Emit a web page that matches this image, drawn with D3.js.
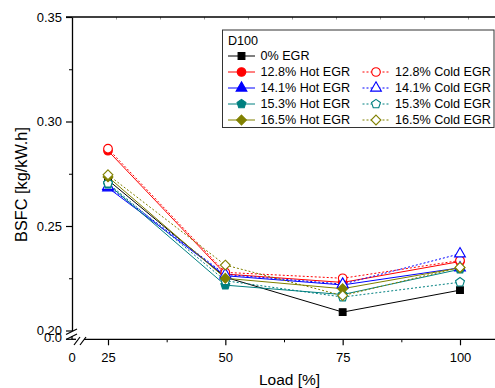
<!DOCTYPE html>
<html><head><meta charset="utf-8">
<script src="https://cdn.jsdelivr.net/npm/d3@7"></script>
<style>
body{margin:0;background:#fff;}
svg{display:block;font-family:"Liberation Sans",Arial,sans-serif;}
</style></head>
<body>
<svg id="c" width="495" height="388"></svg>
<script>
const loads = [25, 50, 75, 100];
const egr0    = [0.2720, 0.2255, 0.2088, 0.2193];
const hot128  = [0.2860, 0.2270, 0.2230, 0.2330];
const cold128 = [0.2870, 0.2278, 0.2250, 0.2335];
const hot141  = [0.2683, 0.2262, 0.2218, 0.2300];
const cold141 = [0.2690, 0.2268, 0.2222, 0.2367];
const hot153  = [0.2700, 0.2217, 0.2172, 0.2293];
const cold153 = [0.2705, 0.2238, 0.2160, 0.2231];
const hot165  = [0.2735, 0.2250, 0.2200, 0.2300];
const cold165 = [0.2745, 0.2313, 0.2167, 0.2302];
const names = ["0% EGR","12.8% Hot EGR","12.8% Cold EGR","14.1% Hot EGR","14.1% Cold EGR",
               "15.3% Hot EGR","15.3% Cold EGR","16.5% Hot EGR","16.5% Cold EGR"];
const yTicks = [0.20, 0.25, 0.30, 0.35];
const yMinor = [0.225, 0.275, 0.325];
const xMinor = [37.5, 62.5, 87.5];
const legendTitle = "D100";

const pentagon = {draw(ctx, size){
  const r = Math.sqrt(size / 2.378);
  for (let i = 0; i < 5; i++){
    const a = -Math.PI/2 + i*2*Math.PI/5;
    const px = r*Math.cos(a), py = r*Math.sin(a);
    if (i === 0) ctx.moveTo(px, py); else ctx.lineTo(px, py);
  }
  ctx.closePath();
}};
const diamond = {draw(ctx, size){
  const r = Math.sqrt(size / 2);
  ctx.moveTo(0, -r); ctx.lineTo(r, 0); ctx.lineTo(0, r); ctx.lineTo(-r, 0); ctx.closePath();
}};

const series = [
  {name:names[0], vals:egr0,    color:"#000000", dash:null, open:false, sym:d3.symbolSquare, size:46},
  {name:names[1], vals:hot128,  color:"#ff0000", dash:null, open:false, sym:d3.symbolCircle, size:58},
  {name:names[2], vals:cold128, color:"#ff0000", dash:"2,2", open:true, sym:d3.symbolCircle, size:58},
  {name:names[3], vals:hot141,  color:"#0000ff", dash:null, open:false, sym:d3.symbolTriangle, size:50},
  {name:names[4], vals:cold141, color:"#0000ff", dash:"2,2", open:true, sym:d3.symbolTriangle, size:50},
  {name:names[5], vals:hot153,  color:"#008080", dash:null, open:false, sym:pentagon, size:52},
  {name:names[6], vals:cold153, color:"#008080", dash:"2,2", open:true, sym:pentagon, size:52},
  {name:names[7], vals:hot165,  color:"#808000", dash:null, open:false, sym:diamond, size:48},
  {name:names[8], vals:cold165, color:"#808000", dash:"2,2", open:true, sym:diamond, size:48}
];

(function(){
const svg = d3.select("#c");
const pLeft = 72, pRight = 495, pTop = 17, pBottom = 339.3;
const x = d3.scaleLinear().domain([25, 100]).range([108, 460]);
const y = d3.scaleLinear().domain([0.20, 0.35]).range([330.5, pTop]);

// top frame line with small inward ticks
const xTop = d3.scaleLinear().domain([0, 125]).range([pLeft, pLeft + 44*10]);
const gTop = svg.append("g").attr("transform", `translate(0,${pTop})`)
  .call(d3.axisBottom(xTop).tickValues(d3.range(12.5, 125, 12.5)).tickSize(2.5).tickSizeOuter(0).tickFormat(""));
gTop.select(".domain").remove();
gTop.selectAll(".tick line").attr("stroke", "#999");
svg.append("line").attr("x1", 66).attr("x2", pRight).attr("y1", pTop).attr("y2", pTop)
  .attr("stroke", "#000").attr("stroke-width", 1.3);

// Y axis (upper segment)
const gy = svg.append("g").attr("transform", `translate(${pLeft},0)`)
  .call(d3.axisLeft(y).tickValues(yTicks).tickSize(6).tickPadding(4).tickSizeOuter(0)
        .tickFormat(d3.format(".2f")));
gy.selectAll("text").attr("font-size", 13).attr("fill", "#000").attr("font-family", "Liberation Sans, Arial, sans-serif");
gy.select(".domain").attr("stroke-width", 1.3);
gy.selectAll(".tick line").attr("stroke-width", 1.2);
const gym = svg.append("g").attr("transform", `translate(${pLeft},0)`)
  .call(d3.axisLeft(y).tickValues(yMinor).tickSize(3).tickFormat(""));
gym.select(".domain").remove();

// lower y segment 0.0
svg.append("line").attr("x1", pLeft).attr("x2", pLeft).attr("y1", 336).attr("y2", pBottom).attr("stroke", "#000").attr("stroke-width", 1.3);
svg.append("line").attr("x1", pLeft - 6).attr("x2", pLeft).attr("y1", pBottom).attr("y2", pBottom).attr("stroke", "#000").attr("stroke-width", 1.2);
svg.append("text").attr("x", 62).attr("y", pBottom - 1).attr("dy", "0.32em").attr("text-anchor", "end")
  .attr("font-size", 13).text("0.0");
// y break marks
[[66,334.5,77,329],[66,339.5,77,334]].forEach(b=>{
  svg.append("line").attr("x1", b[0]).attr("y1", b[1]).attr("x2", b[2]).attr("y2", b[3])
    .attr("stroke", "#000").attr("stroke-width", 1.2);
});

// X axis
const gx = svg.append("g").attr("transform", `translate(0,${pBottom})`)
  .call(d3.axisBottom(x).tickValues(loads).tickSize(6).tickPadding(7.5).tickSizeOuter(0));
gx.select(".domain").attr("d", `M84,0H${pRight}`).attr("stroke-width", 1.3);
gx.selectAll("text").attr("font-size", 13).attr("fill", "#000").attr("font-family", "Liberation Sans, Arial, sans-serif");
gx.selectAll(".tick line").attr("stroke-width", 1.2);
const gxm = svg.append("g").attr("transform", `translate(0,${pBottom})`)
  .call(d3.axisBottom(x).tickValues(xMinor).tickSize(3).tickFormat(""));
gxm.select(".domain").remove();
// x break portion near 0
svg.append("line").attr("x1", pLeft).attr("x2", 76).attr("y1", pBottom).attr("y2", pBottom).attr("stroke", "#000").attr("stroke-width", 1.3);
[[74,345,80,337],[80,345,86,337]].forEach(b=>{
  svg.append("line").attr("x1", b[0]).attr("y1", b[1]).attr("x2", b[2]).attr("y2", b[3])
    .attr("stroke", "#000").attr("stroke-width", 1.2);
});
svg.append("text").attr("x", pLeft).attr("y", pBottom + 13.5).attr("dy", "0.71em").attr("text-anchor", "middle")
  .attr("font-size", 13).text("0");

// axis titles
svg.append("text").attr("x", 289.5).attr("y", 380).attr("dy", "0.35em").attr("text-anchor", "middle")
  .attr("font-size", 15.5).text("Load [%]");
svg.append("text").attr("transform", "translate(21,184.5) rotate(-90)").attr("dy", "0.35em")
  .attr("text-anchor", "middle").attr("font-size", 16.3).text("BSFC [kg/kW.h]");

// series
const line = d3.line().x((d,i)=>x(loads[i])).y(d=>y(d));
series.forEach(s=>{
  svg.append("path").attr("d", line(s.vals)).attr("fill", "none").attr("stroke", s.color)
    .attr("stroke-width", 1).attr("stroke-dasharray", s.dash);
});
series.forEach(s=>{
  const sym = d3.symbol().type(s.sym).size(s.size);
  svg.append("g").selectAll("path").data(s.vals).join("path")
    .attr("transform", (d,i)=>`translate(${x(loads[i])},${y(d)})`)
    .attr("d", sym)
    .attr("fill", s.open ? "#fff" : s.color)
    .attr("stroke", s.color).attr("stroke-width", 1.1);
});

// legend
const lg = svg.append("g");
lg.append("rect").attr("x", 222.5).attr("y", 30).attr("width", 271.5).attr("height", 97.5)
  .attr("fill", "#fff").attr("stroke", "#333").attr("stroke-width", 1);
lg.append("text").attr("x", 228).attr("y", 41).attr("dy", "0.35em").attr("font-size", 12.6).text(legendTitle);
series.forEach((s, k)=>{
  let col, row;
  if (k === 0){ col = 0; row = 0; } else { row = Math.floor((k+1)/2); col = (k % 2 === 1) ? 0 : 1; }
  const lx = col === 0 ? 228 : 362.5;
  const ly = 56 + row*16;
  const mx = lx + 13.5;
  lg.append("line").attr("x1", lx).attr("x2", lx + 27).attr("y1", ly).attr("y2", ly)
    .attr("stroke", s.color).attr("stroke-width", 1).attr("stroke-dasharray", s.dash);
  lg.append("path").attr("transform", `translate(${mx},${ly})`).attr("d", d3.symbol().type(s.sym).size(s.size))
    .attr("fill", s.open ? "#fff" : s.color).attr("stroke", s.color).attr("stroke-width", 1.1);
  lg.append("text").attr("x", lx + 32.5).attr("y", ly).attr("dy", "0.35em").attr("font-size", 12.6).text(s.name);
});
})();
</script>
</body></html>
